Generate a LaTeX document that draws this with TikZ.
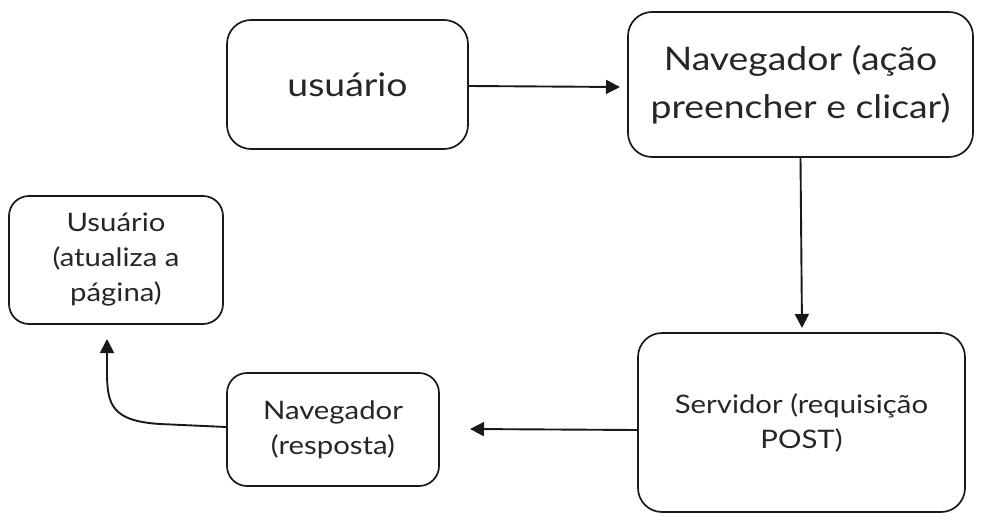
\documentclass[tikz,border=0pt]{standalone}
\usepackage{fontspec}
\setmainfont[FakeStretch=1.15]{Lato}
\usetikzlibrary{arrows.meta}
\tikzset{
  box/.style={draw=black!90, line width=1.7pt, rounded corners=24pt, align=center, inner sep=0pt, text=black!85},
  bigtext/.style={font=\fontsize{32.5}{48}\selectfont},
  smalltext/.style={font=\fontsize{25.5}{35}\selectfont},
  conn/.style={draw=black!90, line width=1.9pt, -{Triangle[length=14pt,width=14pt]}},
}
\begin{document}
\begin{tikzpicture}[x=1pt,y=-1pt]
\useasboundingbox (0,0) rectangle (983,522);
\node[box, bigtext, minimum width=241pt, minimum height=129pt] (u1) at (347.5,84.5) {usuário};
\node[box, bigtext, minimum width=345pt, minimum height=145pt] (nav1) at (800.5,84.5) {Navegador (ação\\preencher e clicar)};
\node[box, smalltext, rounded corners=20pt, minimum width=214pt, minimum height=128pt] (u2) at (116,260) {Usuário\\(atualiza a\\página)};
\node[box, smalltext, rounded corners=20pt, minimum width=212pt, minimum height=113pt] (nav2) at (333,429.5) {Navegador\\(resposta)};
\node[box, smalltext, rounded corners=24pt, minimum width=327pt, minimum height=179pt] (serv) at (801.5,422.5) {Servidor (requisição\\POST)};
\draw[conn] (u1.east |- 0,86) -- (620,87);
\draw[conn] (nav1.south) -- (802,328);
\draw[conn] (serv.west |- 0,430) -- (470,429);
\draw[conn] (nav2.west |- 0,427) -- (160,424) .. controls (112,421) and (107,405) .. (107,372) -- (107,339);
\end{tikzpicture}
\end{document}
